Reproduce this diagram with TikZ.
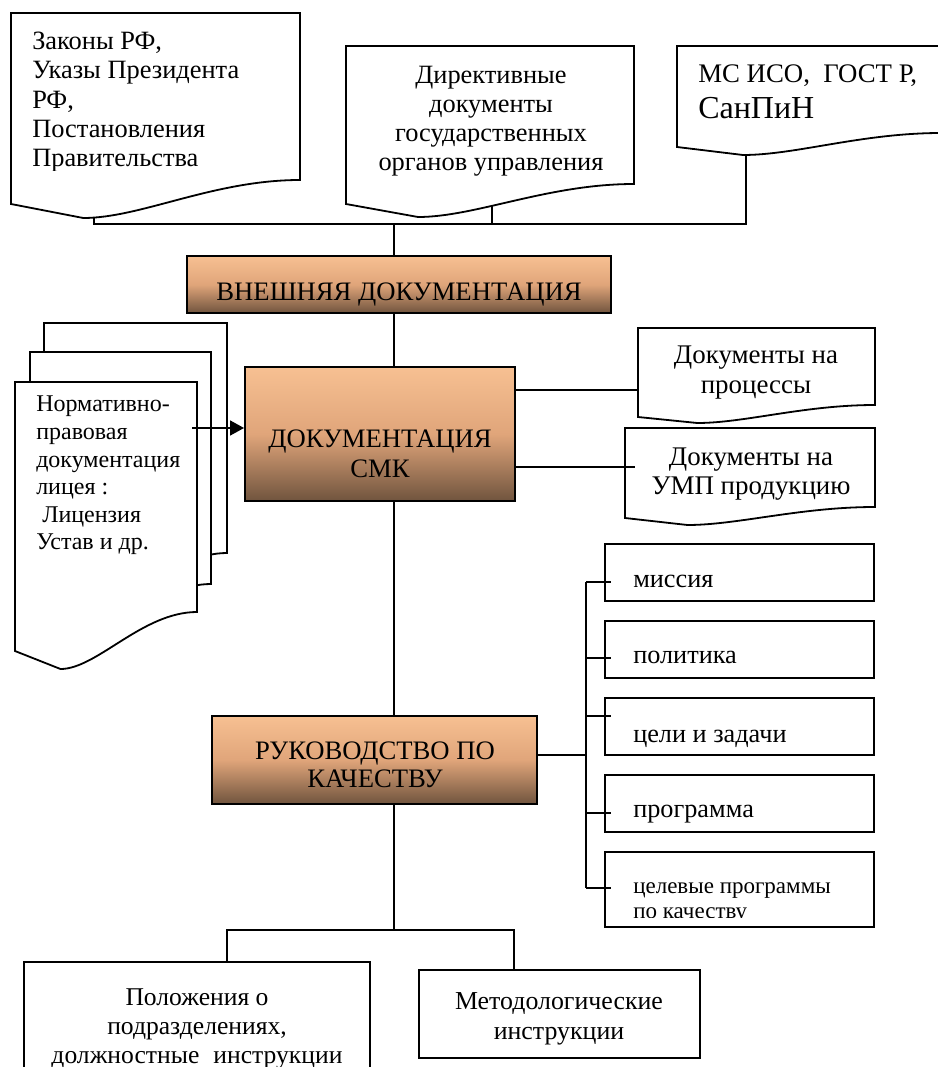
\documentclass[tikz,border=0pt]{standalone}
\usepackage{fontspec}
\setmainfont{Liberation Serif}
\usetikzlibrary{arrows.meta}
\definecolor{peach}{RGB}{247,192,146}
\definecolor{peachmid}{RGB}{224,165,122}
\definecolor{brownb}{RGB}{112,84,62}
\newcommand\docpath[6]{(#1,#2) -- (#3,#2) -- (#3,#4) .. controls ({#3-0.3*(#3-#1)},#4) and ({#1+0.45*(#3-#1)},#6) .. ({#1+0.25*(#3-#1)},#6) -- (#1,#5) -- cycle}
\tikzset{
  ln/.style={line width=1.35pt, black},
  docsh/.style={draw, line width=1.35pt, fill=white},
  gbox/.style={draw, line width=1.35pt, top color=peach, bottom color=brownb, middle color=peachmid, inner sep=0pt},
  wbox/.style={draw, line width=1.35pt, fill=white, inner sep=0pt},
  txt/.style={inner sep=0pt, font=\fontsize{19.8}{21.9}\selectfont},
  capt/.style={inner sep=0pt, align=center, font=\fontsize{20}{21.5}\selectfont},
  small/.style={inner sep=0pt, font=\fontsize{19.7}{20}\selectfont},
}
\begin{document}
\begin{tikzpicture}[x=0.75pt,y=-0.75pt]
\useasboundingbox (0,0) rectangle (938,1067);
\coordinate (tx) at (394,224);
\coordinate (d1c) at (94,212);
\coordinate (d2c) at (492,200);
\coordinate (d3c) at (746,150);
% bus lines (drawn under documents)
\draw[ln] (d1c) -- (d1c |- tx) -- (d3c |- tx) -- (d3c);
\draw[ln] (d2c) -- (d2c |- tx);
% top documents
\draw[docsh] \docpath{11}{13}{300}{180}{204}{218};
\draw[docsh] \docpath{346}{46}{634}{184}{204}{217};
\draw[docsh] \docpath{677}{46}{941}{133}{147}{155};
\begin{scope}
\clip (11,13) rectangle (300,170);
\node[txt, anchor=north west, align=left] (t1) at (32,32) {Законы РФ,\\Указы Президента\\РФ,\\Постановления\\Правительства};
\end{scope}
\node[txt, anchor=north, align=center] (t2) at (491,65.5) {Директивные\\документы\\государственных\\органов управления};
\node[inner sep=0pt, anchor=base west, font=\fontsize{20.1}{22}\selectfont] (t3a) at (698,82) {МС ИСО,\ \ ГОСТ Р,};
\node[inner sep=0pt, anchor=base west, font=\fontsize{24}{26}\selectfont] (t3b) at (698,118) {СанПиН};
% main boxes
\node[gbox, minimum width=424*0.75pt, minimum height=57*0.75pt] (ext) at (399,284.5) {};
\node[capt, anchor=base] (extt) at (399,300) {ВНЕШНЯЯ ДОКУМЕНТАЦИЯ};
\node[gbox, minimum width=270*0.75pt, minimum height=134*0.75pt] (smk) at (380,434) {};
\node[capt, anchor=north, font=\fontsize{20}{22.5}\selectfont] (smkt) at (380,430) {ДОКУМЕНТАЦИЯ\\СМК};
\node[gbox, minimum width=325*0.75pt, minimum height=88*0.75pt] (ruk) at (374.5,760) {};
\node[capt, anchor=north, font=\fontsize{20}{21}\selectfont] (rukt) at (375,742) {РУКОВОДСТВО ПО\\КАЧЕСТВУ};
% trunk
\draw[ln] (tx) -- (ext.north -| tx);
\draw[ln] (ext.south -| tx) -- (smk.north -| tx);
\draw[ln] (smk.south -| tx) -- (ruk.north -| tx);
% right documents of SMK
\coordinate (pP) at (638,390);
\coordinate (pU) at (635,467);
\draw[ln] (pP -| smk.east) -- (pP);
\draw[docsh] \docpath{638}{328}{875}{405}{417}{423};
\draw[docsh] \docpath{625}{428}{875}{507}{518}{525};
\draw[ln] (pU -| smk.east) -- (pU);
\node[txt, anchor=north, align=center, font=\fontsize{20.2}{22}\selectfont] (tP) at (756,346) {Документы на\\процессы};
\node[txt, anchor=north, align=center, font=\fontsize{20.2}{21.5}\selectfont] (tU) at (751,448) {Документы на\\УМП продукцию};
% stacked documents
\draw[docsh] \docpath{44}{323}{227}{553}{592}{610};
\draw[docsh] \docpath{30}{352}{211}{584}{623}{641};
\draw[docsh] \docpath{15}{382}{197}{612}{651}{669};
\node[inner sep=0pt, anchor=north west, align=left, font=\fontsize{18}{20.7}\selectfont] (tN) at (36,396) {Нормативно-\\правовая\\документация\\лицея :\\\ Лицензия\\Устав и др.};
\coordinate (aS) at (192,428);
\draw[line width=1.8pt, -{Triangle[length=10.5pt,width=11pt]}] (aS) -- (aS -| smk.west);
% right column
\node[wbox, minimum width=269*0.75pt, minimum height=57*0.75pt] (m1) at (739.5,572.5) {};
\node[wbox, minimum width=269*0.75pt, minimum height=57*0.75pt] (m2) at (739.5,649.5) {};
\node[wbox, minimum width=269*0.75pt, minimum height=57*0.75pt] (m3) at (739.5,726.5) {};
\node[wbox, minimum width=269*0.75pt, minimum height=57*0.75pt] (m4) at (739.5,803.5) {};
\node[wbox, minimum width=269*0.75pt, minimum height=75*0.75pt] (m5) at (739.5,889.5) {};
\node[small, anchor=base west] (m1t) at (633,587) {миссия};
\node[small, anchor=base west] (m2t) at (633,663) {политика};
\node[small, anchor=base west] (m3t) at (633,742) {цели и задачи};
\node[small, anchor=base west] (m4t) at (633,817) {программа};
\begin{scope}
\clip (606,853) rectangle (873,917);
\node[inner sep=0pt, anchor=north west, align=left, font=\fontsize{17.25}{18.75}\selectfont] (m5t) at (633,882) {целевые программы\\по качеству};
\end{scope}
\coordinate (vx) at (586,755);
\draw[ln] (vx |- 0,582) -- (vx |- 0,888);
\draw[ln] (ruk.east |- vx) -- (vx);
\foreach \yy in {582,658,716,813,888}{\draw[ln] (586,\yy) -- (611,\yy);}
% bottom boxes
\coordinate (bl) at (227,930);
\coordinate (br) at (514,930);
\draw[ln] (ruk.south -| tx) -- (tx |- bl);
\node[wbox, minimum width=346*0.75pt, minimum height=138*0.75pt] (lb) at (197,1031) {};
\node[wbox, minimum width=281*0.75pt, minimum height=88*0.75pt] (rb) at (559.5,1014) {};
\draw[ln] (lb.north -| bl) -- (bl) -- (br) -- (rb.north -| br);
\node[txt, anchor=north, align=center, font=\fontsize{19.2}{22}\selectfont] (lbt) at (197,988) {Положения о\\подразделениях,\\должностные\hspace{0.55em}инструкции};
\node[txt, anchor=north, align=center, font=\fontsize{19.4}{22.5}\selectfont] (rbt) at (559,992) {Методологические\\инструкции};
\end{tikzpicture}
\end{document}
